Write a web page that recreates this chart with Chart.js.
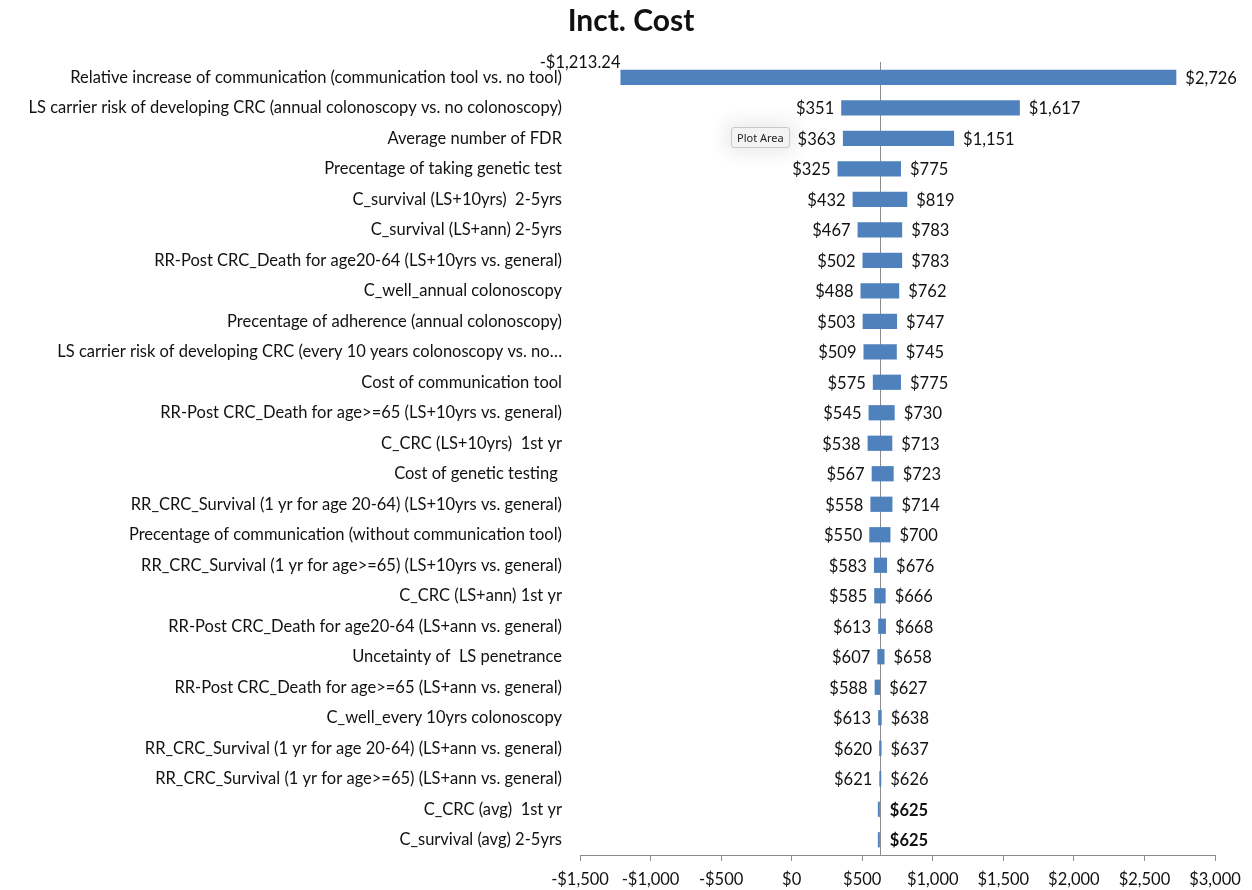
<!DOCTYPE html>
<html>
<head>
<meta charset="utf-8">
<script src="https://cdn.jsdelivr.net/npm/chart.js@4.4.1/dist/chart.umd.min.js"></script>
<style>
  body { margin: 0; background: #fff; }
  #wrap { position: relative; width: 1252px; height: 890px; }
  #hint {
    position: absolute; left: 731px; top: 127px;
    padding: 2px 5px; font: 11px "Noto Sans", sans-serif; color: #222;
    background: #f3f3f3; border: 1px solid #c8c8c8; border-radius: 3px;
    box-shadow: 0 0 18px 6px rgba(0,0,0,0.08);
  }
</style>
</head>
<body>
<div id="wrap">
  <canvas id="tornado" width="1252" height="890"></canvas>
  <div id="hint">Plot Area</div>
</div>
<script>
const params = [
    'Relative increase of communication (communication tool vs. no tool)',
    'LS carrier risk of developing CRC (annual colonoscopy vs. no colonoscopy)',
    'Average number of FDR',
    'Precentage of taking genetic test',
    'C_survival (LS+10yrs)  2-5yrs',
    'C_survival (LS+ann) 2-5yrs',
    'RR-Post CRC_Death for age20-64 (LS+10yrs vs. general)',
    'C_well_annual colonoscopy',
    'Precentage of adherence (annual colonoscopy)',
    'LS carrier risk of developing CRC (every 10 years colonoscopy vs. no…',
    'Cost of communication tool',
    'RR-Post CRC_Death for age>=65 (LS+10yrs vs. general)',
    'C_CRC (LS+10yrs)  1st yr',
    'Cost of genetic testing ',
    'RR_CRC_Survival (1 yr for age 20-64) (LS+10yrs vs. general)',
    'Precentage of communication (without communication tool)',
    'RR_CRC_Survival (1 yr for age>=65) (LS+10yrs vs. general)',
    'C_CRC (LS+ann) 1st yr',
    'RR-Post CRC_Death for age20-64 (LS+ann vs. general)',
    'Uncetainty of  LS penetrance',
    'RR-Post CRC_Death for age>=65 (LS+ann vs. general)',
    'C_well_every 10yrs colonoscopy',
    'RR_CRC_Survival (1 yr for age 20-64) (LS+ann vs. general)',
    'RR_CRC_Survival (1 yr for age>=65) (LS+ann vs. general)',
    'C_CRC (avg)  1st yr',
    'C_survival (avg) 2-5yrs'
];
const lowCost = [-1213.24, 351, 363, 325, 432, 467, 502, 488, 503, 509, 575, 545, 538, 567, 558, 550, 583, 585, 613, 607, 588, 613, 620, 621, 625, 625];
const highCost = [2726, 1617, 1151, 775, 819, 783, 783, 762, 747, 745, 775, 730, 713, 723, 714, 700, 676, 666, 668, 658, 627, 638, 637, 626, 625, 625];
const baseCost = 625;
const xTicks = [-1500, -1000, -500, 0, 500, 1000, 1500, 2000, 2500, 3000];

const FONT = 'Lato';

function money(v) {
    const abs = Math.abs(v);
    const s = Number.isInteger(v)
        ? abs.toLocaleString('en-US')
        : abs.toLocaleString('en-US', { minimumFractionDigits: 2, maximumFractionDigits: 2 });
    return (v < 0 ? '-$' : '$') + s;
}

// title, base-case line and the low/high value labels
const tornadoExtras = {
    id: 'tornadoExtras',
    beforeDatasetsDraw(chart) {
        const { ctx, chartArea, scales } = chart;
        const x = Math.round(scales.x.getPixelForValue(baseCost)) + 0.5;
        ctx.save();
        ctx.strokeStyle = '#8c8c8c';
        ctx.lineWidth = 1;
        ctx.beginPath();
        ctx.moveTo(x, chartArea.top);
        ctx.lineTo(x, chartArea.bottom);
        ctx.stroke();

        ctx.fillStyle = '#111';
        ctx.font = 'bold 30px ' + FONT;
        ctx.textAlign = 'center';
        ctx.textBaseline = 'middle';
        ctx.fillText('Inct. Cost', chart.width / 2 + 5, 21);
        ctx.restore();
    },
    afterDatasetsDraw(chart) {
        const { ctx } = chart;
        const bars = chart.getDatasetMeta(0).data;
        ctx.save();
        ctx.fillStyle = '#111';
        ctx.textBaseline = 'middle';
        bars.forEach((bar, i) => {
            const lo = lowCost[i], hi = highCost[i];
            const left = Math.min(bar.x, bar.base);
            const right = Math.max(bar.x, bar.base);
            if (lo === hi) {
                ctx.font = 'bold 16.5px ' + FONT;
                ctx.textAlign = 'left';
                ctx.fillText(money(hi), right + 10, bar.y + 1);
                return;
            }
            ctx.font = '16.5px ' + FONT;
            ctx.textAlign = 'right';
            if (i === 0) {
                ctx.fillText(money(lo), left, bar.y - 15);
            } else {
                ctx.fillText(money(lo), left - 7, bar.y + 1);
            }
            ctx.textAlign = 'left';
            ctx.fillText(money(hi), right + 9, bar.y + 1);
        });
        ctx.restore();
    }
};

new Chart(document.getElementById('tornado').getContext('2d'), {
    type: 'bar',
    data: {
        labels: params,
        datasets: [{
            label: 'Inct. Cost',
            data: lowCost.map((lo, i) => [lo, highCost[i]]),
            backgroundColor: '#4f81bd',
            borderWidth: 0,
            categoryPercentage: 1,
            barPercentage: 0.5,
            minBarLength: 2
        }]
    },
    options: {
        indexAxis: 'y',
        responsive: false,
        animation: false,
        layout: { padding: { left: 0, right: 37, top: 62, bottom: 0 } },
        plugins: {
            legend: { display: false },
            tooltip: { enabled: false },
            title: { display: false }
        },
        scales: {
            x: {
                min: -1500,
                max: 3000,
                afterBuildTicks(scale) {
                    scale.ticks = xTicks.map(v => ({ value: v }));
                },
                afterFit(scale) { scale.height = 35; },
                grid: { drawOnChartArea: false, drawTicks: true, tickLength: 6, color: '#8c8c8c' },
                border: { display: true, color: '#8c8c8c' },
                ticks: {
                    padding: 9,
                    color: '#111',
                    font: { family: FONT, size: 16.5 },
                    callback: v => money(v)
                }
            },
            y: {
                afterFit(scale) { scale.width = 580; },
                grid: { display: false, drawTicks: false },
                border: { display: false },
                ticks: {
                    padding: 18,
                    autoSkip: false,
                    color: '#111',
                    font: { family: FONT, size: 16.5 }
                }
            }
        }
    },
    plugins: [tornadoExtras]
});
</script>
</body>
</html>
